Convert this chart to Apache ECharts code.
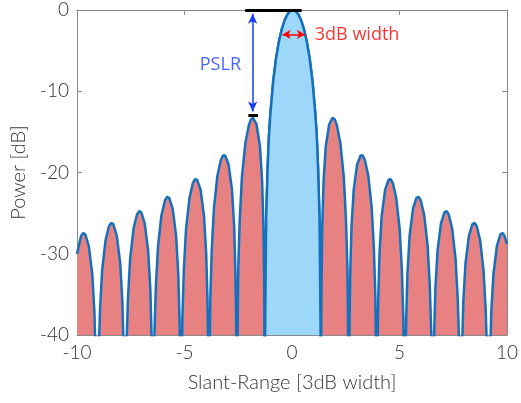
<!DOCTYPE html>
<html>
<head>
<meta charset="utf-8">
<script src="https://cdn.jsdelivr.net/npm/echarts@6/dist/echarts.min.js"></script>
<style>
  html, body { margin: 0; padding: 0; background: #fff; }
  #chart { width: 521px; height: 403px; }
</style>
</head>
<body>
<div id="chart"></div>
<script>
// slant range [3dB widths] and power [dB].
// nulls are put at -60 so they fall below the axis and get clipped
const rangeX = [
  -10.00, -9.81, -9.71, -9.61, -9.45, -9.29, -9.19, -9.13, -9.06,
  -9.00, -8.93, -8.83, -8.67, -8.51, -8.41, -8.31, -8.15, -7.99, -7.89, -7.83, -7.76,
  -7.70, -7.63, -7.53, -7.37, -7.21, -7.11, -7.01, -6.85, -6.69, -6.59, -6.53, -6.46,
  -6.40, -6.33, -6.23, -6.07, -5.91, -5.81, -5.71, -5.55, -5.39, -5.29, -5.23, -5.19, -5.16,
  -5.13, -5.10, -5.03, -4.93, -4.77, -4.61, -4.51, -4.41, -4.25, -4.09, -3.99, -3.93, -3.89, -3.86,
  -3.83, -3.80, -3.73, -3.63, -3.47, -3.31, -3.21, -3.11, -2.95, -2.79, -2.69, -2.63, -2.59, -2.56,
  -2.53, -2.50, -2.43, -2.33, -2.17, -2.01, -1.91, -1.81, -1.65, -1.49, -1.39, -1.33, -1.29, -1.26,
  -1.25, -1.23, -1.20, -1.13, -1.07, -1.00, -0.87, -0.74, -0.61, -0.48, -0.35, -0.22, -0.09, 0.04,
  0.17, 0.30, 0.43, 0.56, 0.69, 0.82, 0.95, 1.08, 1.15, 1.21, 1.28, 1.31, 1.33, 1.34,
  1.37, 1.41, 1.47, 1.57, 1.73, 1.89, 1.99, 2.09, 2.25, 2.41, 2.51, 2.58, 2.61, 2.64,
  2.67, 2.71, 2.77, 2.87, 3.03, 3.19, 3.29, 3.39, 3.55, 3.71, 3.81, 3.88, 3.91, 3.94,
  3.97, 4.01, 4.07, 4.17, 4.33, 4.49, 4.59, 4.69, 4.85, 5.01, 5.11, 5.18, 5.21, 5.24,
  5.27, 5.31, 5.37, 5.47, 5.63, 5.79, 5.89, 5.99, 6.15, 6.31, 6.41, 6.48, 6.54,
  6.61, 6.67, 6.77, 6.93, 7.09, 7.19, 7.29, 7.45, 7.61, 7.71, 7.78, 7.84,
  7.91, 7.97, 8.07, 8.23, 8.39, 8.49, 8.59, 8.75, 8.91, 9.01, 9.08, 9.14,
  9.21, 9.27, 9.37, 9.53, 9.69, 9.79, 9.89, 10.00
];
const powerDb = [
  -30.03, -27.82, -27.44, -27.63, -29.05, -32.49, -37.17, -43.02, -60,
  -42.89, -36.92, -32.04, -28.30, -26.59, -26.20, -26.37, -27.77, -31.18, -35.85, -41.69, -60,
  -41.54, -35.56, -30.66, -26.90, -25.16, -24.75, -24.90, -26.27, -29.65, -34.29, -40.12, -60,
  -39.95, -33.95, -29.02, -25.23, -23.44, -23.01, -23.13, -24.45, -27.79, -32.40, -38.20, -46.07, -60,
  -45.98, -37.99, -31.96, -27.00, -23.15, -21.30, -20.82, -20.90, -22.15, -25.41, -29.97, -35.74, -43.58, -60,
  -43.47, -35.45, -29.39, -24.37, -20.41, -18.46, -17.90, -17.90, -19.02, -22.13, -26.59, -32.29, -40.09, -60,
  -39.92, -31.85, -25.72, -20.57, -16.39, -14.20, -13.47, -13.27, -14.06, -16.80, -20.97, -26.48, -34.16, -60,
  -39.92, -33.81, -25.61, -19.23, -15.39, -12.62, -8.69, -5.94, -3.92, -2.42, -1.33, -0.58, -0.14, 0,
  -0.14, -0.58, -1.33, -2.42, -3.92, -5.94, -8.69, -12.62, -15.39, -19.23, -25.61, -33.81, -39.92, -60,
  -34.16, -26.48, -20.97, -16.80, -14.06, -13.27, -13.47, -14.20, -16.39, -20.57, -25.72, -31.85, -39.92, -60,
  -40.09, -32.29, -26.59, -22.13, -19.02, -17.90, -17.90, -18.46, -20.41, -24.37, -29.39, -35.45, -43.47, -60,
  -43.58, -35.74, -29.97, -25.41, -22.15, -20.90, -20.82, -21.30, -23.15, -27.00, -31.96, -37.99, -45.98, -60,
  -46.07, -38.20, -32.40, -27.79, -24.45, -23.13, -23.01, -23.44, -25.23, -29.02, -33.95, -39.95, -60,
  -40.12, -34.29, -29.65, -26.27, -24.90, -24.75, -25.16, -26.90, -30.66, -35.56, -41.54, -60,
  -41.69, -35.85, -31.18, -27.77, -26.37, -26.20, -26.59, -28.30, -32.04, -36.92, -42.89, -60,
  -43.02, -37.17, -32.49, -29.05, -27.63, -27.44, -27.82, -28.81
];
// main lobe lies between these two nulls
const mainLobeRange = [-1.26, 1.34];

const xTicks = { min: -10, max: 10, step: 5 };
const yTicks = { min: -40, max: 0, step: 10 };

// annotation values (dB / 3dB widths)
const pslrX = -1.83;
const pslrTop = -0.45;
const pslrBottom = -12.5;
const peakBar = [-2.18, 0.45];      // black bar at 0 dB
const sidelobeBar = [-2.03, -1.58]; // black bar at first sidelobe
const sidelobeLevel = -13;
const widthArrow = [-0.44, 0.6];
const widthLevel = -3;

const allPoints = rangeX.map((x, i) => [x, powerDb[i]]);
const mainPoints = allPoints.filter(p => p[0] >= mainLobeRange[0] && p[0] <= mainLobeRange[1]);

const fontFam = 'Lato, "Open Sans", sans-serif';
const axisGray = '#8a8a8a';
const lineBlue = '#1570bd';

function axisCommon(shown) {
  return {
    axisLine: { show: true, onZero: false, lineStyle: { color: axisGray, width: 1 } },
    axisTick: { show: true, inside: true, length: 5, lineStyle: { color: axisGray } },
    axisLabel: { show: shown, fontSize: 19, color: '#333', fontFamily: fontFam, fontWeight: 300 },
    splitLine: { show: false }
  };
}

const chart = echarts.init(document.getElementById('chart'));
chart.setOption({
  animation: false,
  backgroundColor: '#fff',
  grid: { left: 77, right: 10, top: 10, bottom: 68 },
  xAxis: [
    Object.assign({
      type: 'value', position: 'bottom', min: xTicks.min, max: xTicks.max, interval: xTicks.step,
      name: 'Slant-Range [3dB width]', nameLocation: 'middle', nameGap: 38,
      nameTextStyle: { fontSize: 20, color: '#333', fontFamily: fontFam, fontWeight: 300 }
    }, axisCommon(true)),
    Object.assign({
      type: 'value', position: 'top', min: xTicks.min, max: xTicks.max, interval: xTicks.step
    }, axisCommon(false))
  ],
  yAxis: [
    Object.assign({
      type: 'value', position: 'left', min: yTicks.min, max: yTicks.max, interval: yTicks.step,
      name: 'Power [dB]', nameLocation: 'middle', nameGap: 44,
      nameTextStyle: { fontSize: 20, color: '#333', fontFamily: fontFam, fontWeight: 300 }
    }, axisCommon(true)),
    Object.assign({
      type: 'value', position: 'right', min: yTicks.min, max: yTicks.max, interval: yTicks.step
    }, axisCommon(false))
  ],
  series: [
    {
      name: 'sidelobes',
      type: 'line',
      data: allPoints,
      showSymbol: false,
      symbol: 'none',
      clip: true,
      lineStyle: { color: lineBlue, width: 2.5 },
      areaStyle: { color: '#e88282', opacity: 1, origin: 'start' },
      z: 2
    },
    {
      name: 'mainlobe',
      type: 'line',
      data: mainPoints,
      showSymbol: false,
      symbol: 'none',
      clip: true,
      lineStyle: { color: lineBlue, width: 2.5 },
      areaStyle: { color: '#9dd7fa', opacity: 1, origin: 'start' },
      z: 3
    },
    {
      name: 'bars',
      type: 'line',
      data: [],
      clip: false,
      z: 5,
      markLine: {
        silent: true,
        animation: false,
        symbol: ['none', 'none'],
        label: { show: false },
        lineStyle: { color: '#000', width: 3, type: 'solid' },
        data: [
          [{ coord: [peakBar[0], 0] }, { coord: [peakBar[1], 0] }],
          [{ coord: [sidelobeBar[0], sidelobeLevel] }, { coord: [sidelobeBar[1], sidelobeLevel] }]
        ]
      }
    },
    {
      name: 'pslr',
      type: 'line',
      data: [],
      clip: false,
      z: 6,
      markLine: {
        silent: true,
        animation: false,
        symbol: ['arrow', 'arrow'],
        symbolSize: [7, 10],
        label: { show: false },
        lineStyle: { color: '#1a3cff', width: 1.5, type: 'solid' },
        data: [
          [{ coord: [pslrX, pslrTop] }, { coord: [pslrX, pslrBottom] }]
        ]
      }
    },
    {
      name: 'width',
      type: 'line',
      data: [],
      clip: false,
      z: 6,
      markLine: {
        silent: true,
        animation: false,
        symbol: ['arrow', 'arrow'],
        symbolSize: [7, 8],
        label: { show: false },
        lineStyle: { color: '#ff0000', width: 1.5, type: 'solid' },
        data: [
          [{ coord: [widthArrow[0], widthLevel] }, { coord: [widthArrow[1], widthLevel] }]
        ]
      }
    },
    {
      name: 'labels',
      type: 'scatter',
      symbolSize: 0,
      clip: false,
      z: 7,
      data: [
        { value: [-3.33, -6.8], label: { show: true, position: 'inside', formatter: 'PSLR', color: '#1a3cff' } },
        { value: [1.06, widthLevel], label: { show: true, position: 'right', distance: 0, formatter: '3dB width', color: '#ff0000' } }
      ],
      label: { fontSize: 18, fontFamily: '"Open Sans", sans-serif' }
    }
  ]
});
</script>
</body>
</html>
